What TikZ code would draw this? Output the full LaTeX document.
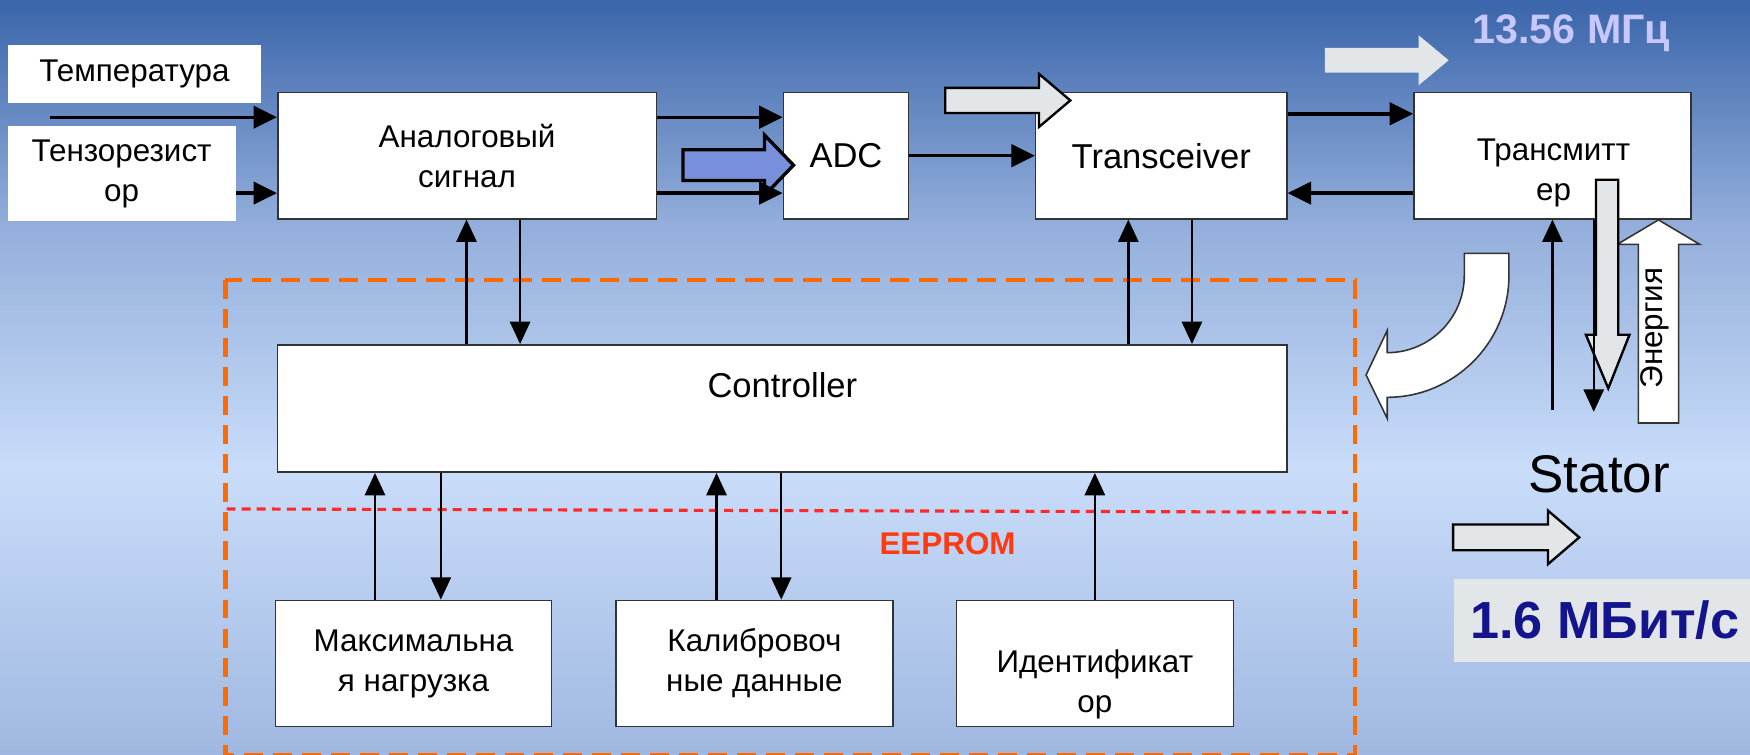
\documentclass[tikz,border=0pt]{standalone}
\usepackage{fontspec}
\setmainfont{Liberation Sans}
\usetikzlibrary{arrows.meta}
\definecolor{bgtop}{HTML}{3A65AA}
\definecolor{bgmid}{HTML}{93AEDB}
\definecolor{bglight}{HTML}{C9DDFA}
\definecolor{bgbottom}{HTML}{A0B8E1}
\definecolor{arrgrey}{HTML}{E2E6E8}
\definecolor{adcblue}{HTML}{7890DC}
\definecolor{eeorange}{HTML}{FF6A00}
\definecolor{eered}{HTML}{FF2B2B}
\definecolor{eetext}{HTML}{FF3A10}
\definecolor{freqtext}{HTML}{C8C8FF}
\definecolor{ratetext}{HTML}{14148C}
\def\blockright[#1](#2,#3)(#4:#5:#6:#7){\path[#1] (#2,#3-#6) -- (#4,#3-#6) -- (#4,#3-#7) -- (#5,#3) -- (#4,#3+#7) -- (#4,#3+#6) -- (#2,#3+#6) -- cycle;}
\tikzset{
	block/.style={draw=black!80, fill=white, line width=0.4pt, inner sep=0pt, align=center, font=\fontsize{8}{10.2}\selectfont},
	tag/.style={fill=white, inner sep=0pt, align=center, font=\fontsize{8}{10.2}\selectfont},
	txt/.style={inner sep=0pt, align=center, font=\fontsize{8}{10.2}\selectfont},
	big/.style={font=\fontsize{8.8}{10.6}\selectfont},
	wire/.style={line width=0.85pt, -{Triangle[length=0.21cm, width=0.2cm]}},
	bus/.style={line width=0.6pt, -{Triangle[length=0.2cm, width=0.18cm]}},
}

\begin{document}
\begin{tikzpicture}[x=0.01cm, y=-0.01cm]
			%%%%% START %%%%%
			\useasboundingbox (0,0) rectangle (1568,676);
			\shade[top color=bgtop, bottom color=bgmid] (0,0) rectangle (1568,201);
			\shade[top color=bgmid, bottom color=bglight] (0,200) rectangle (1568,421);
			\shade[top color=bglight, bottom color=bgbottom] (0,420) rectangle (1568,676);
			
			\draw[eeorange, line width=1.1pt, dash pattern=on 0.17cm off 0.09cm] (202,251) rectangle (1214,677);
			\draw[eered, line width=0.8pt, dash pattern=on 0.08cm off 0.055cm] (203,456) -- (1208,459);
			\node[font=\bfseries\fontsize{8}{9.6}\selectfont, text=eetext] (eeprom) at (849,487) {EEPROM};
			
			\node[tag, minimum width=2.27cm, minimum height=0.52cm] (temp) at (120.5,66) {Температура};
			\node[tag, minimum width=2.04cm, minimum height=0.85cm] (tenzo) at (109,155.5) {Тензорезист\\ор};
			\node[block, minimum width=3.39cm, minimum height=1.13cm] (analog) at (418.5,139.5) {Аналоговый\\сигнал};
			\node[block, big, minimum width=1.12cm, minimum height=1.13cm] (adc) at (758,139.5) {ADC};
			\node[block, big, minimum width=2.25cm, minimum height=1.13cm] (trx) at (1040.5,139.5) {Transceiver};
			\node[block, minimum width=2.48cm, minimum height=1.13cm] (tx) at (1391,139.5) {};
			\node[txt] (txname) at (1392,155) {Трансмитт\\ер};
			
			\node[block, minimum width=9.04cm, minimum height=1.14cm] (ctrl) at (701,366) {};
			\node[txt, big] (ctrlname) at (701,345) {Controller};
			
			\node[block, minimum width=2.47cm, minimum height=1.13cm] (maxl) at (370.5,594.5) {Максимальна\\я нагрузка};
			\node[block, minimum width=2.48cm, minimum height=1.13cm] (calib) at (676,594.5) {Калибровоч\\ные данные};
			\node[block, minimum width=2.48cm, minimum height=1.13cm] (ident) at (981,594.5) {};
			\node[txt] (identname) at (981,613) {Идентификат\\ор};
			
			% fat arrows
			\blockright[draw=black, line width=0.85pt, fill=adcblue](612,148)(685:711:13.75:27)
			\blockright[draw=black, line width=0.6pt, fill=arrgrey](847,90)(931:959:11.3:23.7)
			\blockright[fill=arrgrey](1187,54)(1271:1298:11:22.5)
			\blockright[draw=black, line width=0.6pt, fill=arrgrey](1302,481.5)(1387:1415:11.5:24)
			
			\filldraw[fill=white, draw=black!80, line width=0.4pt] (1312,227) -- (1352,227) -- (1352,247) .. controls (1352,307) and (1303,356) .. (1243,356) -- (1243,375) -- (1224,336) -- (1243,296) -- (1243,316) .. controls (1281,316) and (1312,285) .. (1312,247) -- cycle;
			\filldraw[fill=white, draw=black!80, line width=0.4pt] (1468,379) -- (1504,379) -- (1504,219) -- (1523,219) -- (1486,197) -- (1449,219) -- (1468,219) -- cycle;
			\node[txt, rotate=90] (energy) at (1483,294) {Энергия};
			\filldraw[fill=arrgrey, draw=black, line width=0.6pt] (1430,161) -- (1450,161) -- (1450,300) -- (1460,300) -- (1441,348) -- (1421,300) -- (1430,300) -- cycle;
			
			% signal lines
			\coordinate (tin) at (45,105);
			\draw[wire] (tin) -- (analog.west |- tin);
			\draw[wire] (tenzo.east |- 0,173) -- (analog.west |- 0,173);
			\draw[wire] (analog.east |- 0,105) -- (adc.west |- 0,105);
			\draw[wire] (analog.east |- 0,173) -- (adc.west |- 0,173);
			\draw[wire] (adc.east) -- (trx.west);
			\draw[wire] (trx.east |- 0,102) -- (tx.west |- 0,102);
			\draw[wire] (tx.west |- 0,173) -- (trx.east |- 0,173);
			
			\draw[bus] (ctrl.north -| 418,0) -- (analog.south -| 418,0);
			\draw[bus] (analog.south -| 466,0) -- (ctrl.north -| 466,0);
			\draw[bus] (ctrl.north -| 1011,0) -- (trx.south -| 1011,0);
			\draw[bus] (trx.south -| 1068,0) -- (ctrl.north -| 1068,0);
			
			\draw[bus] (maxl.north -| 336,0) -- (ctrl.south -| 336,0);
			\draw[bus] (ctrl.south -| 395,0) -- (maxl.north -| 395,0);
			\draw[bus] (calib.north -| 642,0) -- (ctrl.south -| 642,0);
			\draw[bus] (ctrl.south -| 700,0) -- (calib.north -| 700,0);
			\draw[bus] (ident.north -| 981,0) -- (ctrl.south -| 981,0);
			
			\coordinate (upfoot) at (1391,367);
			\coordinate (downfoot) at (1428,369);
			\draw[bus] (upfoot) -- (tx.south -| upfoot);
			\draw[bus] (tx.south -| downfoot) -- (downfoot);
			
			% stator side
			\node[font=\bfseries\fontsize{10.5}{12}\selectfont, text=freqtext] (freq) at (1408,30) {13.56 МГц};
			\node[font=\fontsize{13.5}{16}\selectfont] (stator) at (1433,425) {Stator};
			\node[fill=arrgrey, minimum width=2.7cm, minimum height=0.74cm, inner sep=0pt, text=ratetext, font=\bfseries\fontsize{13.3}{16}\selectfont] (rate) at (1438,556) {1.6 МБит/с};
			%%%%% END %%%%%
\end{tikzpicture}
\end{document}
